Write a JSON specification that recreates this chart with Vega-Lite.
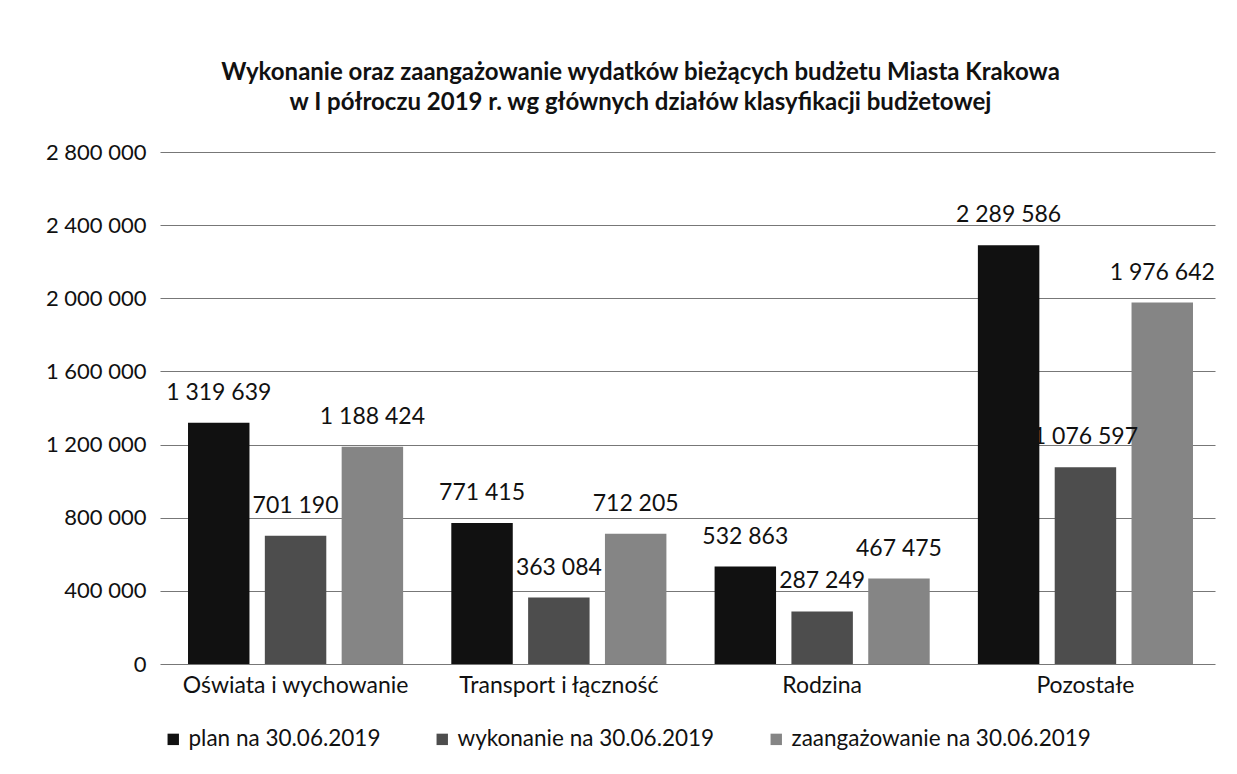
{
  "$schema": "https://vega.github.io/schema/vega-lite/v6.json",
  "width": 1055,
  "height": 512,
  "autosize": {"type": "none"},
  "padding": {"left": 160, "top": 152, "right": 22, "bottom": 110},
  "background": "white",
  "config": {
    "locale": {"number": {"decimal": ",", "thousands": " ", "grouping": [3], "currency": ["", " zł"]}},
    "font": "Lato",
    "view": {"stroke": null}
  },
  "title": {
    "text": ["Wykonanie oraz zaangażowanie wydatków bieżących budżetu Miasta Krakowa", "w I półroczu 2019 r. wg głównych działów klasyfikacji budżetowej"],
    "font": "Lato",
    "fontSize": 24,
    "fontWeight": "bold",
    "lineHeight": 30,
    "anchor": "middle",
    "dx": -47,
    "offset": 26,
    "color": "#111111"
  },
  "data": {
    "values": [
      {"kategoria": "Oświata i wychowanie", "seria": "plan na 30.06.2019", "wartosc": 1319639},
      {"kategoria": "Oświata i wychowanie", "seria": "wykonanie na 30.06.2019", "wartosc": 701190},
      {"kategoria": "Oświata i wychowanie", "seria": "zaangażowanie na 30.06.2019", "wartosc": 1188424},
      {"kategoria": "Transport i łączność", "seria": "plan na 30.06.2019", "wartosc": 771415},
      {"kategoria": "Transport i łączność", "seria": "wykonanie na 30.06.2019", "wartosc": 363084},
      {"kategoria": "Transport i łączność", "seria": "zaangażowanie na 30.06.2019", "wartosc": 712205},
      {"kategoria": "Rodzina", "seria": "plan na 30.06.2019", "wartosc": 532863},
      {"kategoria": "Rodzina", "seria": "wykonanie na 30.06.2019", "wartosc": 287249},
      {"kategoria": "Rodzina", "seria": "zaangażowanie na 30.06.2019", "wartosc": 467475},
      {"kategoria": "Pozostałe", "seria": "plan na 30.06.2019", "wartosc": 2289586},
      {"kategoria": "Pozostałe", "seria": "wykonanie na 30.06.2019", "wartosc": 1076597},
      {"kategoria": "Pozostałe", "seria": "zaangażowanie na 30.06.2019", "wartosc": 1976642}
    ]
  },
  "encoding": {
    "x": {
      "field": "kategoria", "type": "nominal", "sort": null,
      "scale": {"paddingInner": 0.183, "paddingOuter": 0.095, "align": 0.56},
      "axis": {"title": null, "labelAngle": 0, "labelFontSize": 23, "labelColor": "#111111", "labelFont": "Lato", "labelLimit": 0, "ticks": false, "domain": false, "labelPadding": 10}
    },
    "xOffset": {
      "field": "seria", "type": "nominal", "sort": null,
      "scale": {"paddingInner": 0.2, "paddingOuter": 0}
    },
    "y": {
      "field": "wartosc", "type": "quantitative",
      "scale": {"domain": [0, 2800000], "nice": false},
      "axis": {"title": null, "values": [0, 400000, 800000, 1200000, 1600000, 2000000, 2400000, 2800000], "format": ",d", "labelFontSize": 22, "labelFont": "Lato", "labelColor": "#111111", "ticks": false, "domain": false, "labelPadding": 14, "gridColor": "#777777", "gridWidth": 1.2}
    }
  },
  "layer": [
    {
      "mark": {"type": "bar"},
      "encoding": {
        "color": {
          "field": "seria", "type": "nominal", "sort": null,
          "scale": {"range": ["#111111", "#4d4d4d", "#858585"]},
          "legend": {"title": null, "orient": "none", "direction": "horizontal", "legendX": 2, "legendY": 576, "symbolType": "square", "symbolSize": 130, "labelFontSize": 22.5, "labelFont": "Lato", "labelLimit": 0, "labelColor": "#111111", "columnPadding": 50, "symbolStrokeWidth": 0}
        }
      }
    },
    {
      "mark": {"type": "text", "baseline": "middle", "dy": -30, "fontSize": 23, "font": "Lato", "color": "#111111"},
      "encoding": {
        "text": {"field": "wartosc", "type": "quantitative", "format": ",d"}
      }
    }
  ]
}
